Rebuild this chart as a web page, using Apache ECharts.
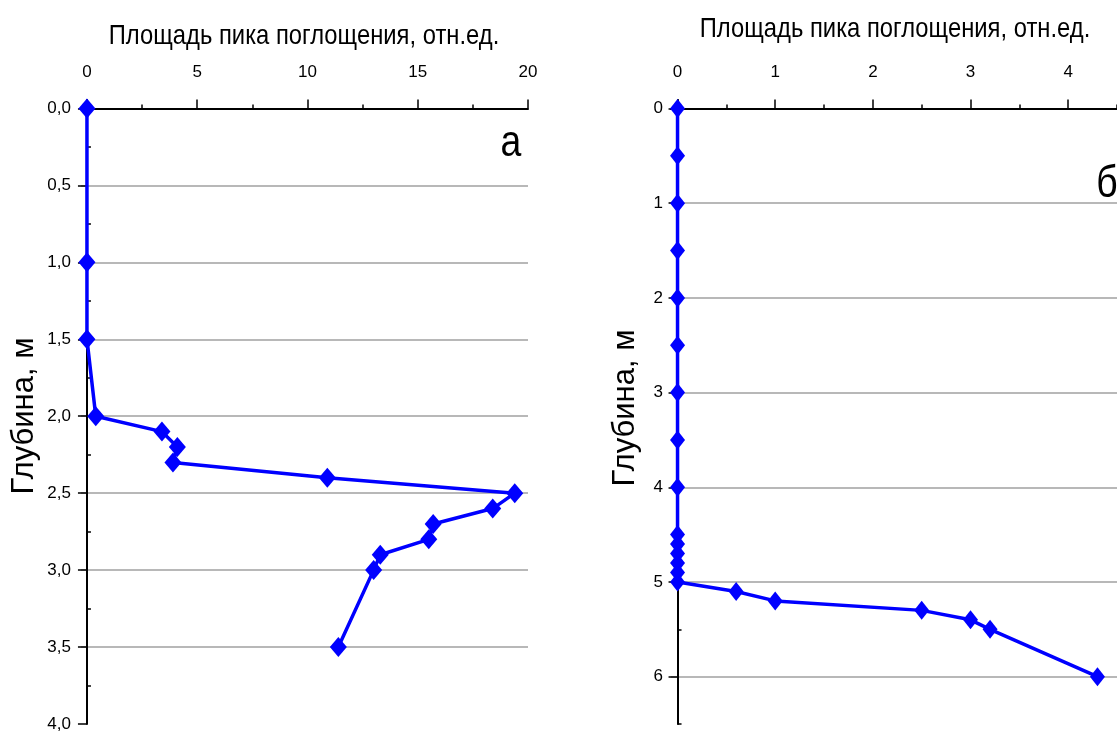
<!DOCTYPE html>
<html>
<head>
<meta charset="utf-8">
<script src="https://cdn.jsdelivr.net/npm/echarts@6/dist/echarts.min.js"></script>
<style>
  html, body { margin: 0; background: #fff; }
  #chart { width: 1117px; height: 733px; }
</style>
</head>
<body>
<div id="chart"></div>
<script>
// panel "а"
const depthA = [0, 1.0, 1.5, 2.0, 2.1, 2.2, 2.3, 2.4, 2.5, 2.6, 2.7, 2.8, 2.9, 3.0, 3.5];
const areaA = [0, 0, 0, 0.4, 3.4, 4.1, 3.9, 10.9, 19.4, 18.4, 15.7, 15.5, 13.3, 13.0, 11.4];
// panel "б"
const depthB = [0, 0.5, 1, 1.5, 2, 2.5, 3, 3.5, 4, 4.5, 4.6, 4.7, 4.8, 4.9, 5.0, 5.1, 5.2, 5.3, 5.4, 5.5, 6.0];
const areaB = [0, 0, 0, 0, 0, 0, 0, 0, 0, 0, 0, 0, 0, 0, 0, 0.6, 1.0, 2.5, 3.0, 3.2, 4.3];

const xTicksA = [0, 5, 10, 15, 20];
const xMinorA = [2.5, 7.5, 12.5, 17.5];
const yTicksA = [0, 0.5, 1, 1.5, 2, 2.5, 3, 3.5, 4];
const yMinorA = [0.25, 0.75, 1.25, 1.75, 2.25, 2.75, 3.25, 3.75];
const xTicksB = [0, 1, 2, 3, 4];
const xMinorB = [0.5, 1.5, 2.5, 3.5, 4.5];
const yTicksB = [0, 1, 2, 3, 4, 5, 6];
const yMinorB = [0.5, 1.5, 2.5, 3.5, 4.5, 5.5, 6.5];

const xTitle = "Площадь пика поглощения, отн.ед.";
const yTitle = "Глубина, м";

const SANS = "'Liberation Sans', Arial, sans-serif";
const BLUE = "#0000ff";

const chart = echarts.init(document.getElementById("chart"));

function majorX(gridIndex, min, max, ticks) {
  return {
    type: "value", gridIndex: gridIndex, position: "top", min: min, max: max,
    axisLine: { show: true, lineStyle: { color: "#000", width: 2 } },
    axisTick: { show: true, customValues: ticks, length: 9, lineStyle: { color: "#000", width: 1.5 } },
    axisLabel: { show: true, customValues: ticks, color: "#000", fontFamily: SANS, fontSize: 17, margin: 19 },
    splitLine: { show: false },
  };
}
function minorX(gridIndex, min, max, ticks) {
  return {
    type: "value", gridIndex: gridIndex, position: "top", min: min, max: max,
    axisLine: { show: false },
    axisTick: { show: true, customValues: ticks, length: 4, lineStyle: { color: "#000", width: 1.5 } },
    axisLabel: { show: false },
    splitLine: { show: false },
  };
}
function majorY(gridIndex, min, max, ticks, fmt, lineColors, margin) {
  return {
    type: "value", gridIndex: gridIndex, inverse: true, min: min, max: max,
    axisLine: { show: true, lineStyle: { color: "#000", width: 2 } },
    axisTick: { show: true, customValues: ticks, length: 9, lineStyle: { color: "#000", width: 1.5 } },
    axisLabel: { show: true, customValues: ticks, color: "#000", fontFamily: SANS, fontSize: 17, margin: margin, formatter: fmt },
    splitLine: { show: true, lineStyle: { color: lineColors, width: 1.5 } },
  };
}
function minorY(gridIndex, min, max, ticks) {
  return {
    type: "value", gridIndex: gridIndex, inverse: true, min: min, max: max,
    axisLine: { show: false },
    axisTick: { show: true, customValues: ticks, length: 4, lineStyle: { color: "#000", width: 1.5 } },
    axisLabel: { show: false },
    splitLine: { show: false },
  };
}

const gridGrey = "#a0a0a0";
const linesA = yTicksA.map((v, i) => (i === yTicksA.length - 1 ? "rgba(0,0,0,0)" : gridGrey));
const linesB = yTicksB.map(() => gridGrey);

chart.setOption({
  animation: false,
  grid: [
    { left: 81, top: 100, width: 447, height: 624 },
    { left: 671, top: 100, width: 449, height: 624 },
  ],
  xAxis: [
    majorX(0, -0.27, 20, xTicksA),
    minorX(0, -0.27, 20, xMinorA),
    majorX(1, -0.067, 4.5, xTicksB),
    minorX(1, -0.067, 4.5, xMinorB),
  ],
  yAxis: [
    majorY(0, -0.055, 4, yTicksA, (v) => v.toFixed(1).replace(".", ","), linesA, 10),
    minorY(0, -0.055, 4, yMinorA),
    majorY(1, -0.09, 6.5, yTicksB, (v) => String(v), linesB, 8),
    minorY(1, -0.09, 6.5, yMinorB),
  ],
  series: [
    {
      type: "line", xAxisIndex: 0, yAxisIndex: 0,
      data: areaA.map((v, i) => [v, depthA[i]]),
      symbol: "diamond", symbolSize: [17, 20],
      itemStyle: { color: BLUE },
      lineStyle: { color: BLUE, width: 3.5 },
    },
    {
      type: "line", xAxisIndex: 2, yAxisIndex: 2,
      data: areaB.map((v, i) => [v, depthB[i]]),
      symbol: "diamond", symbolSize: [15, 19],
      itemStyle: { color: BLUE },
      lineStyle: { color: BLUE, width: 3.5 },
    },
  ],
  graphic: [
    { type: "text", x: 304, y: 36, scaleX: 0.85, style: { text: xTitle, font: "28px " + SANS, fill: "#000", align: "center", verticalAlign: "middle" } },
    { type: "text", x: 895, y: 29, scaleX: 0.85, style: { text: xTitle, font: "28px " + SANS, fill: "#000", align: "center", verticalAlign: "middle" } },
    { type: "text", x: 24, y: 416, rotation: Math.PI / 2, style: { text: yTitle, font: "31px " + SANS, fill: "#000", align: "center", verticalAlign: "middle" } },
    { type: "text", x: 625, y: 408, rotation: Math.PI / 2, style: { text: yTitle, font: "31px " + SANS, fill: "#000", align: "center", verticalAlign: "middle" } },
    { type: "text", x: 511, y: 144, scaleX: 0.85, style: { text: "а", font: "44px " + SANS, fill: "#000", align: "center", verticalAlign: "middle" } },
    { type: "text", x: 1107, y: 185, scaleX: 0.85, style: { text: "б", font: "44px " + SANS, fill: "#000", align: "center", verticalAlign: "middle" } },
  ],
});
</script>
</body>
</html>
